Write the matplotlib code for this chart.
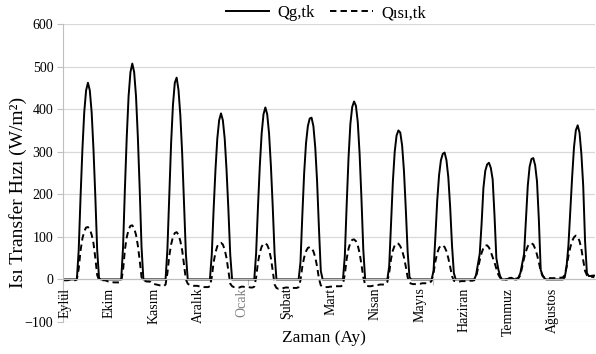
import matplotlib
matplotlib.use("Agg")
import matplotlib.pyplot as plt
import numpy as np

# aylar (her ay icin temsili bir gun, 24 saatlik deger)
aylar = ['Eylül', 'Ekim', 'Kasım', 'Aralık', 'Ocak', 'Şubat',
         'Mart', 'Nisan', 'Mayıs', 'Haziran', 'Temmuz', 'Ağustos']
saat_sayisi = 24

# Qg,tk (W/m2) - saatlik, aylara gore
qg_tk = [
    0, 0, 0, 0, 0, 0, 0, 0, 69, 194, 305, 393, 444, 462, 444, 393, 305, 194, 69, 3, 0, 0, 0, 0,        # Eylül
    0, 0, 0, 0, 0, 0, 0, 0, 76, 213, 335, 431, 487, 507, 487, 431, 335, 213, 76, 0, 0, 0, 0, 0,        # Ekim
    0, 0, 0, 0, 0, 0, 0, 0, 71, 199, 320, 410, 462, 474, 445, 385, 295, 180, 60, 0, 0, 0, 0, 0,        # Kasım
    0, 0, 0, 0, 0, 0, 0, 0, 58, 164, 257, 331, 374, 390, 374, 331, 257, 164, 58, 0, 0, 0, 0, 0,        # Aralık
    0, 0, 0, 0, 0, 0, 0, 0, 61, 170, 267, 343, 388, 404, 388, 343, 267, 170, 61, 0, 0, 0, 0, 0,        # Ocak
    0, 0, 0, 0, 0, 0, 0, 0, 40, 150, 250, 320, 360, 378, 380, 360, 310, 230, 120, 20, 0, 0, 0, 0,      # Şubat
    0, 0, 0, 0, 0, 0, 0, 0, 55, 175, 285, 365, 405, 418, 408, 370, 295, 190, 70, 0, 0, 0, 0, 0,        # Mart
    0, 0, 0, 0, 0, 0, 0, 0, 30, 130, 230, 300, 338, 350, 345, 315, 255, 165, 65, 5, 0, 0, 0, 0,        # Nisan
    0, 0, 0, 0, 0, 0, 0, 0, 20, 100, 185, 245, 280, 295, 298, 280, 240, 170, 80, 15, 0, 0, 0, 0,      # Mayıs
    0, 0, 0, 0, 0, 0, 0, 10, 35, 60, 130, 215, 255, 270, 274, 262, 235, 150, 50, 25, 8, 0, 0, 0,      # Haziran
    0, 3, 4, 2, 0, 0, 5, 15, 37, 60, 140, 220, 265, 283, 285, 268, 230, 140, 22, 10, 3, 0, 0, 0,      # Temmuz
    0, 0, 0, 0, 0, 0, 0, 5, 30, 80, 160, 240, 310, 350, 362, 345, 295, 220, 90, 15, 8, 8, 9, 9,      # Ağustos
]

# Qısı,tk (W/m2)
qisi_tk = [
    -2, -2, -2, -1, -1, -1, -2, 0, 25, 68, 96, 113, 122, 123, 118, 105, 85, 50, 10, -1, -2, -2, -2, -3,
    -5, -6, -6, -7, -7, -7, -7, -5, 22, 70, 99, 117, 126, 127, 120, 105, 80, 45, 5, -4, -4, -5, -5, -6,
    -10, -11, -12, -13, -14, -15, -16, -12, 15, 55, 82, 100, 109, 111, 105, 90, 68, 35, 0, -10, -13, -14, -15, -15,
    -15, -16, -17, -17, -18, -18, -18, -16, 5, 40, 63, 78, 85, 86, 82, 70, 50, 20, -10, -16, -18, -18, -19, -19,
    -17, -17, -18, -18, -18, -19, -19, -17, 4, 40, 63, 77, 84, 85, 81, 70, 50, 20, -12, -20, -22, -22, -21, -20,
    -19, -19, -20, -20, -20, -20, -20, -18, -2, 30, 52, 66, 74, 76, 74, 66, 52, 30, 2, -14, -17, -18, -18, -18,
    -17, -17, -17, -16, -16, -16, -16, -12, 12, 48, 72, 86, 93, 94, 90, 80, 62, 35, 5, -12, -15, -16, -16, -15,
    -14, -13, -13, -12, -12, -12, -12, -6, 15, 48, 68, 80, 85, 84, 78, 68, 52, 30, 5, -8, -10, -11, -11, -11,
    -10, -10, -9, -9, -9, -9, -8, -3, 15, 42, 62, 74, 80, 80, 76, 66, 50, 30, 8, -3, -5, -5, -5, -4,
    -4, -4, -4, -3, -3, -3, -2, 5, 25, 45, 62, 74, 80, 80, 75, 65, 52, 40, 25, 12, 4, 1, 0, 0,
    1, 2, 3, 2, 2, 2, 3, 10, 30, 50, 66, 78, 84, 85, 82, 72, 58, 40, 20, 8, 4, 3, 3, 3,
    3, 3, 3, 4, 4, 4, 5, 10, 30, 55, 75, 90, 99, 103, 100, 90, 72, 45, 20, 10, 7, 6, 6, 5,
]

y_ticks = [-100, 0, 100, 200, 300, 400, 500, 600]

plt.rcParams['font.family'] = ['Liberation Serif', 'DejaVu Serif']

fig = plt.figure(figsize=(5.96, 3.54), dpi=100)
ax = fig.add_axes([0.1057, 0.0904, 0.893, 0.8418])

x = np.arange(len(qg_tk)) + 0.5
ax.plot(x, qg_tk, color='black', lw=1.4, label='Qg,tk')
ax.plot(x, qisi_tk, color='black', lw=1.4, linestyle=(0, (3.3, 2.1)), label='Qısı,tk')

ax.set_xlim(0, len(qg_tk))
ax.set_ylim(-100, 600)
ax.set_yticks(y_ticks)
ax.tick_params(axis='y', labelsize=10, length=4, color='#bfbfbf', pad=3)
ax.yaxis.grid(True, color='#d9d9d9', lw=0.9)
ax.set_axisbelow(True)

for s in ['top', 'right']:
    ax.spines[s].set_visible(False)
ax.spines['left'].set_color('#bfbfbf')
# kategori ekseni 0'da kesisiyor
ax.spines['bottom'].set_position(('data', 0))
ax.spines['bottom'].set_color('#bfbfbf')
ax.set_xticks([0, 100, 200])
ax.set_xticklabels([])
ax.tick_params(axis='x', length=4, color='#bfbfbf')

for i, ay in enumerate(aylar):
    renk = '#808080' if ay == 'Ocak' else 'black'
    ax.text(i * saat_sayisi + 1, -19, ay, rotation=90, ha='center', va='top',
            fontsize=10, color=renk)

fig.text(0.03, 1 - 192 / 354, 'Isı Transfer Hızı (W/m²)', rotation=90,
         ha='center', va='center', fontsize=14)
fig.text(0.544, 1 - 338 / 354, 'Zaman (Ay)', ha='center', va='center', fontsize=12.5)

ax.legend(loc='center', bbox_to_anchor=(0.547, 0.963), bbox_transform=fig.transFigure,
          ncol=2, frameon=False, fontsize=12, handlelength=2.6, handletextpad=0.5,
          columnspacing=0.9, borderpad=0)

fig.savefig('out.png', dpi=100)
